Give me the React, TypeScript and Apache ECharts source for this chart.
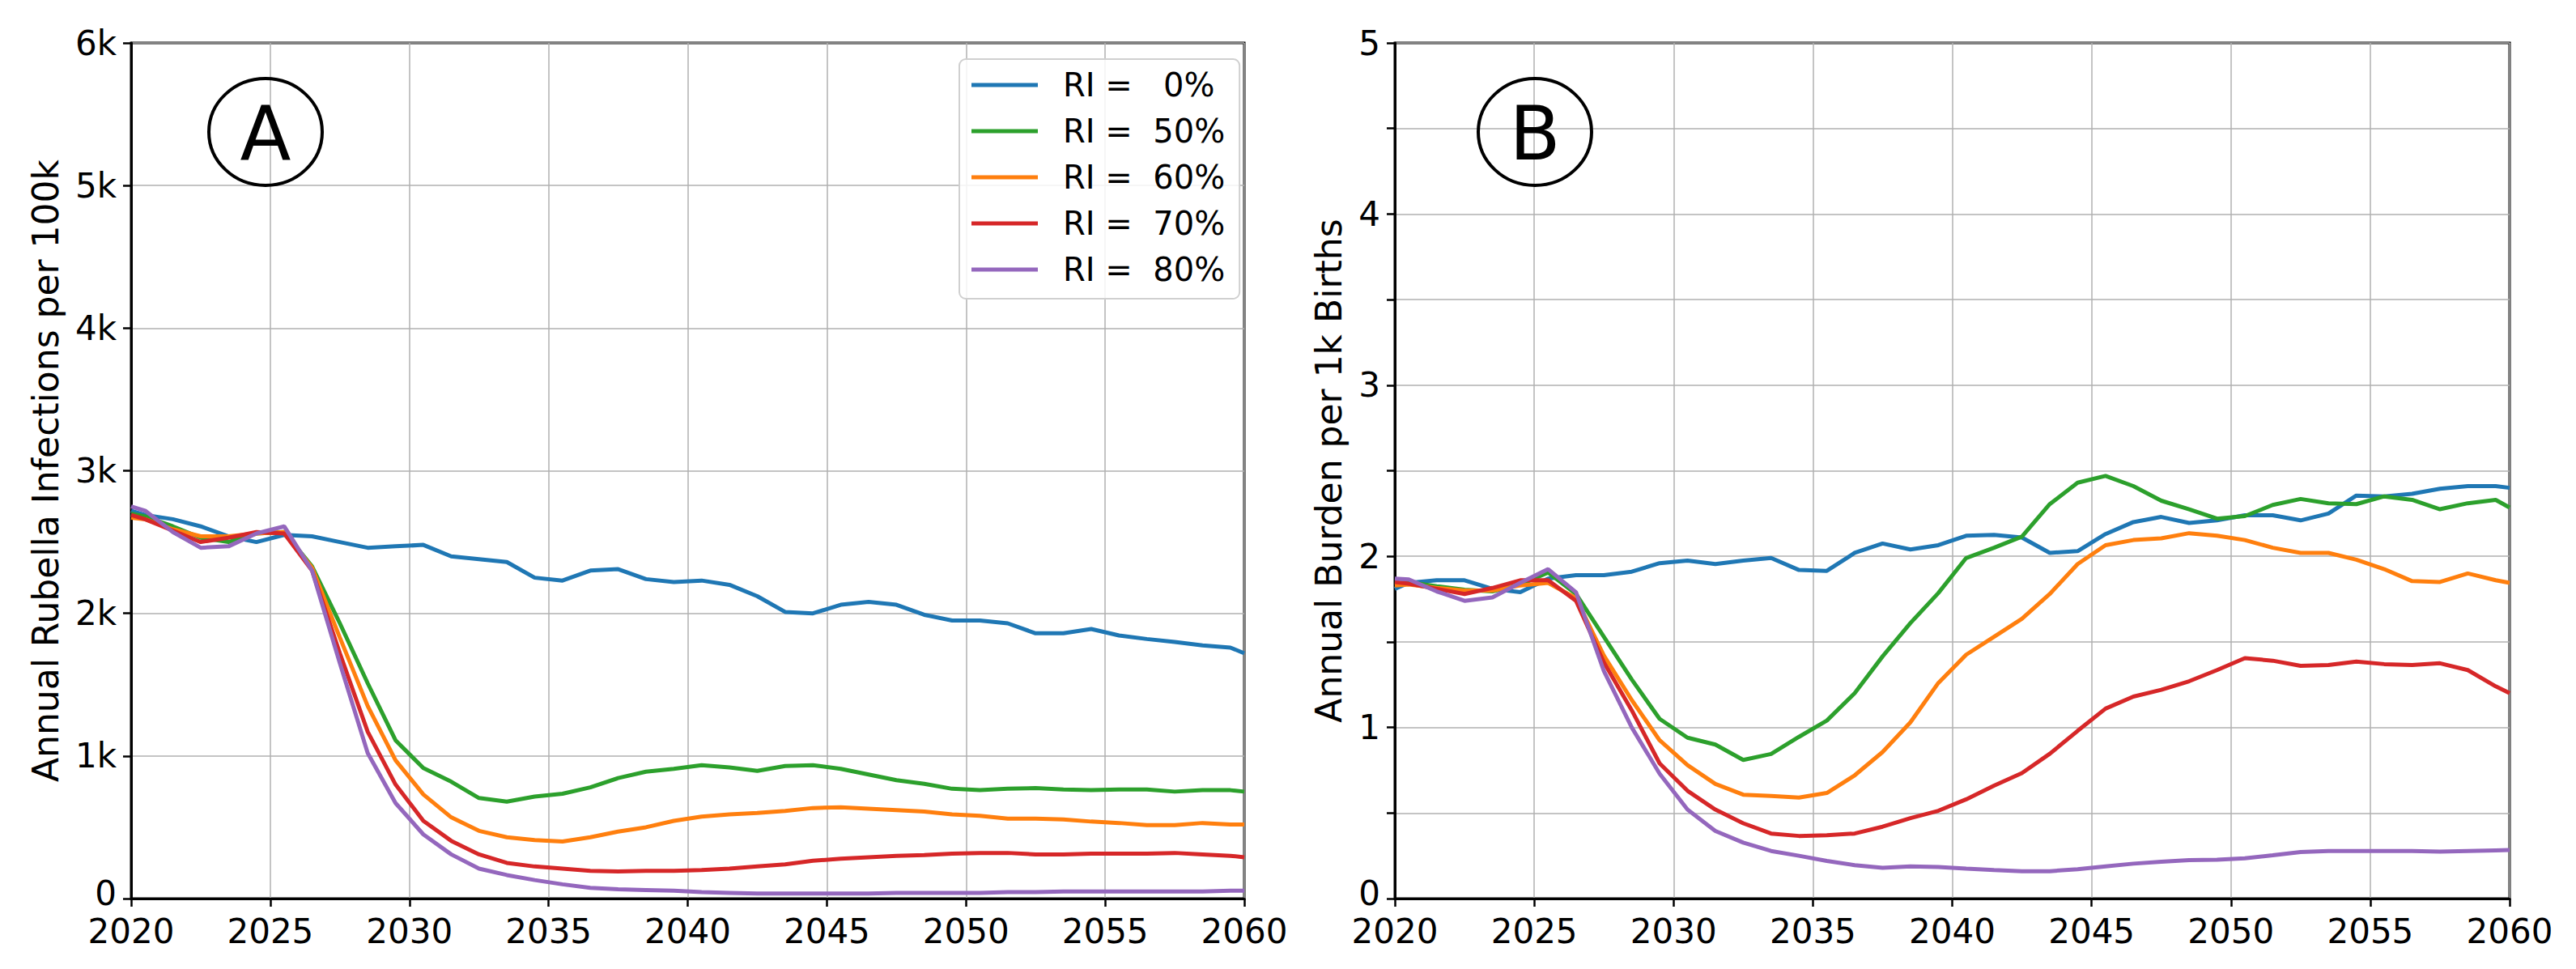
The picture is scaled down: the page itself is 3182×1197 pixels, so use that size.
import React, { useEffect, useRef } from "react";
import * as echarts from "echarts";

const years = [2020, 2020.5, 2021.5, 2022.5, 2023.5, 2024.5, 2025.5, 2026.5, 2027.5, 2028.5, 2029.5, 2030.5, 2031.5, 2032.5, 2033.5, 2034.5, 2035.5, 2036.5, 2037.5, 2038.5, 2039.5, 2040.5, 2041.5, 2042.5, 2043.5, 2044.5, 2045.5, 2046.5, 2047.5, 2048.5, 2049.5, 2050.5, 2051.5, 2052.5, 2053.5, 2054.5, 2055.5, 2056.5, 2057.5, 2058.5, 2059.5, 2060];

const seriesNames = ["RI =   0%", "RI =  50%", "RI =  60%", "RI =  70%", "RI =  80%"];
const seriesColors = ["#1f77b4", "#2ca02c", "#ff7f0e", "#d62728", "#9467bd"];

// Panel A: annual rubella infections per 100k
const infRI0 = [2720, 2690, 2660, 2610, 2540, 2500, 2550, 2540, 2500, 2460, 2470, 2480, 2400, 2380, 2360, 2250, 2230, 2300, 2310, 2240, 2220, 2230, 2200, 2120, 2010, 2000, 2060, 2080, 2060, 1990, 1950, 1950, 1930, 1860, 1860, 1890, 1845, 1820, 1800, 1775, 1760, 1720];
const infRI50 = [2700, 2680, 2610, 2530, 2500, 2560, 2570, 2330, 1930, 1510, 1110, 915, 820, 705, 680, 715, 735, 780, 845, 890, 910, 935, 920, 895, 930, 935, 910, 870, 830, 805, 770, 760, 770, 775, 765, 760, 765, 765, 750, 760, 760, 750];
const infRI60 = [2670, 2660, 2590, 2540, 2540, 2560, 2570, 2320, 1830, 1350, 970, 730, 570, 475, 430, 410, 400, 430, 470, 500, 545, 575, 590, 600, 615, 635, 640, 630, 620, 610, 590, 580, 560, 560, 555, 540, 530, 515, 515, 530, 520, 520];
const infRI70 = [2690, 2660, 2580, 2500, 2530, 2570, 2560, 2300, 1720, 1170, 800, 545, 405, 310, 250, 225, 210, 195, 190, 195, 195, 200, 210, 225, 240, 265, 280, 290, 300, 305, 315, 320, 320, 310, 310, 315, 315, 315, 320, 310, 300, 290];
const infRI80 = [2750, 2720, 2570, 2460, 2470, 2560, 2610, 2300, 1650, 1020, 670, 450, 310, 210, 165, 130, 100, 75, 65, 60, 55, 45, 40, 35, 35, 35, 35, 35, 40, 40, 40, 40, 45, 45, 50, 50, 50, 50, 50, 50, 55, 55];

// Panel B: annual burden per 1k births
const burRI0 = [1.81, 1.845, 1.86, 1.86, 1.81, 1.79, 1.87, 1.89, 1.89, 1.91, 1.96, 1.975, 1.955, 1.975, 1.99, 1.92, 1.915, 2.02, 2.075, 2.04, 2.065, 2.12, 2.125, 2.11, 2.02, 2.03, 2.13, 2.2, 2.23, 2.195, 2.21, 2.24, 2.24, 2.21, 2.25, 2.355, 2.35, 2.365, 2.395, 2.41, 2.41, 2.4];
const burRI50 = [1.84, 1.85, 1.825, 1.805, 1.795, 1.835, 1.905, 1.78, 1.53, 1.28, 1.05, 0.94, 0.9, 0.81, 0.845, 0.945, 1.04, 1.2, 1.415, 1.61, 1.785, 1.99, 2.05, 2.115, 2.305, 2.43, 2.47, 2.41, 2.325, 2.275, 2.22, 2.235, 2.3, 2.335, 2.31, 2.305, 2.35, 2.33, 2.275, 2.31, 2.33, 2.285];
const burRI60 = [1.83, 1.835, 1.815, 1.8, 1.8, 1.83, 1.845, 1.755, 1.42, 1.16, 0.925, 0.78, 0.67, 0.607, 0.6, 0.59, 0.617, 0.72, 0.856, 1.03, 1.26, 1.425, 1.53, 1.635, 1.78, 1.955, 2.065, 2.095, 2.105, 2.135, 2.12, 2.095, 2.05, 2.02, 2.02, 1.98, 1.925, 1.855, 1.85, 1.9, 1.86, 1.845];
const burRI70 = [1.85, 1.84, 1.81, 1.78, 1.815, 1.86, 1.86, 1.74, 1.38, 1.1, 0.79, 0.63, 0.52, 0.44, 0.38, 0.366, 0.37, 0.38, 0.42, 0.47, 0.513, 0.58, 0.66, 0.733, 0.846, 0.98, 1.11, 1.18, 1.22, 1.27, 1.335, 1.405, 1.39, 1.36, 1.365, 1.385, 1.37, 1.365, 1.375, 1.335, 1.24, 1.2];
const burRI80 = [1.87, 1.865, 1.795, 1.74, 1.76, 1.845, 1.925, 1.79, 1.33, 1.0, 0.73, 0.52, 0.395, 0.327, 0.278, 0.25, 0.22, 0.195, 0.18, 0.188, 0.184, 0.175, 0.167, 0.16, 0.16, 0.172, 0.188, 0.204, 0.215, 0.225, 0.227, 0.235, 0.253, 0.272, 0.278, 0.278, 0.278, 0.278, 0.274, 0.278, 0.282, 0.284];

const panelAValues = [infRI0, infRI50, infRI60, infRI70, infRI80];
const panelBValues = [burRI0, burRI50, burRI60, burRI70, burRI80];

const FONT = "DejaVu Sans";

export default function App() {
  const ref = useRef<HTMLDivElement>(null);

  useEffect(() => {
    if (!ref.current) return;
    const chart = echarts.init(ref.current, undefined, { renderer: "svg" });

    const makeX = (gridIndex: number) => ({
      type: "value",
      gridIndex,
      min: 2020,
      max: 2060,
      interval: 5,
      axisLine: { show: true, lineStyle: { color: "#000", width: 3 } },
      axisTick: { show: true, inside: false, length: 10, lineStyle: { color: "#000", width: 2.5 } },
      axisLabel: { fontFamily: FONT, fontSize: 42, lineHeight: 30, color: "#000", margin: 25, formatter: (v: number) => String(v) },
      splitLine: { show: true, lineStyle: { color: "#b0b0b0", width: 1.5 } },
    });

    const makeY = (gridIndex: number, max: number, interval: number, name: string, nameGap: number, fmt: (v: number) => string) => ({
      type: "value",
      gridIndex,
      min: 0,
      max,
      interval,
      name,
      nameLocation: "middle",
      nameRotate: 90,
      nameGap,
      nameTextStyle: { fontFamily: FONT, fontSize: 44, color: "#000" },
      axisLine: { show: true, lineStyle: { color: "#000", width: 3 } },
      axisTick: { show: true, inside: false, length: 10, lineStyle: { color: "#000", width: 2.5 } },
      axisLabel: {
        fontFamily: FONT,
        fontSize: 42,
        lineHeight: 30,
        color: "#000",
        margin: 18,
        formatter: (v: number) => (v === 0 ? "{z|0}" : fmt(v)),
        rich: { z: { fontFamily: FONT, fontSize: 42, lineHeight: 30, color: "#000", padding: [0, 0, 14, 0] } },
      },
      splitLine: { show: true, lineStyle: { color: "#b0b0b0", width: 1.5 } },
    });

    const series: any[] = [];
    panelAValues.forEach((vals, k) => {
      series.push({
        type: "line",
        name: seriesNames[k],
        xAxisIndex: 0,
        yAxisIndex: 0,
        data: years.map((x, i) => [x, vals[i]]),
        symbol: "none",
        showSymbol: false,
        lineStyle: { color: seriesColors[k], width: 5 },
        itemStyle: { color: seriesColors[k] },
        z: 2 + k,
      });
    });
    panelBValues.forEach((vals, k) => {
      series.push({
        type: "line",
        name: seriesNames[k],
        xAxisIndex: 1,
        yAxisIndex: 1,
        data: years.map((x, i) => [x, vals[i]]),
        symbol: "none",
        showSymbol: false,
        lineStyle: { color: seriesColors[k], width: 5 },
        itemStyle: { color: seriesColors[k] },
        z: 2 + k,
      });
    });

    const labelEllipse = (cx: number, letter: string) => [
      {
        type: "ellipse",
        shape: { cx, cy: 163, rx: 70, ry: 66 },
        style: { fill: "none", stroke: "#000", lineWidth: 4 },
        z: 100,
      },
      {
        type: "text",
        x: cx,
        y: 165,
        style: { text: letter, fontFamily: FONT, fontSize: 92, fill: "#000", align: "center", verticalAlign: "middle" },
        z: 100,
      },
    ];

    chart.setOption({
      animation: false,
      backgroundColor: "#fff",
      grid: [
        { left: 162, top: 53, width: 1375, height: 1057, show: true, borderColor: "#000", borderWidth: 3, backgroundColor: "transparent" },
        { left: 1723, top: 53, width: 1377, height: 1057, show: true, borderColor: "#000", borderWidth: 3, backgroundColor: "transparent" },
      ],
      xAxis: [makeX(0), makeX(1)],
      yAxis: [
        makeY(0, 6000, 1000, "Annual Rubella Infections per 100k", 84, (v: number) => (v === 0 ? "0" : `${v / 1000}k`)),
        makeY(1, 5, 0.5, "Annual Burden per 1k Births", 60, (v: number) => (Math.abs(v - Math.round(v)) < 1e-9 ? String(Math.round(v)) : "")),
      ],
      legend: {
        show: true,
        orient: "vertical",
        left: 1185,
        top: 73,
        data: seriesNames,
        icon: "rect",
        itemWidth: 82,
        itemHeight: 5,
        itemGap: 17,
        padding: [12, 18, 16, 15],
        backgroundColor: "rgba(255,255,255,0.85)",
        borderColor: "#d0d0d0",
        borderWidth: 2,
        borderRadius: 8,
        textStyle: { fontFamily: FONT, fontSize: 40, color: "#000", padding: [0, 0, 0, 26] },
        selectedMode: false,
      },
      graphic: [...labelEllipse(328, "A"), ...labelEllipse(1896, "B")],
      series,
    });

    return () => chart.dispose();
  }, []);

  return <div ref={ref} style={{ position: "fixed", left: 0, top: 0, width: 3182, height: 1197, background: "#fff" }} />;
}
